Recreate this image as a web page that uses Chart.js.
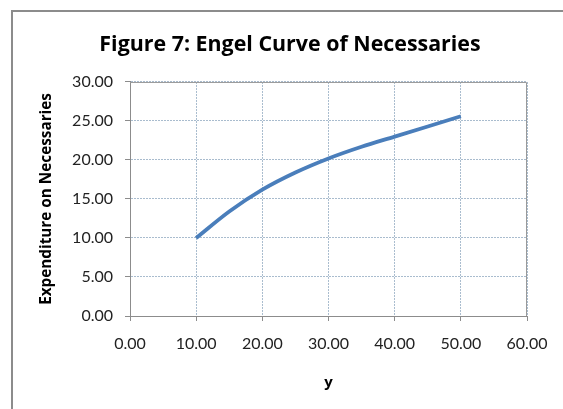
<!DOCTYPE html>
<html>
<head>
<meta charset="utf-8">
<script src="https://cdn.jsdelivr.net/npm/chart.js@4"></script>
<style>
  html, body { margin: 0; padding: 0; background: #fff; }
  #wrap { position: relative; width: 563px; height: 409px; overflow: hidden; }
  #frame { position: absolute; left: 11px; top: 10px; width: 620px; height: 460px;
           border: 2px solid #8c8c8c; box-sizing: border-box; }
  canvas { position: absolute; left: 0; top: 0; }
</style>
</head>
<body>
<div id="wrap">
  <div id="frame"></div>
  <canvas id="engelChart" width="563" height="409"></canvas>
</div>
<script>
// Engel curve data
const incomeY = [10, 15, 20, 25, 30, 35, 40, 45, 50];
const expenditure = [10.0, 13.4, 16.2, 18.4, 20.2, 21.7, 23.0, 24.3, 25.6];
const xTickLabels = ['0.00', '10.00', '20.00', '30.00', '40.00', '50.00', '60.00'];
const yTickLabels = ['0.00', '5.00', '10.00', '15.00', '20.00', '25.00', '30.00'];

const points = incomeY.map((x, i) => ({ x: x, y: expenditure[i] }));

// grey frame on top & right of plot area (Excel style)
const plotEdge = {
  id: 'plotEdge',
  afterDraw(chart) {
    const a = chart.chartArea, c = chart.ctx;
    c.save();
    c.strokeStyle = '#9a9a9a';
    c.lineWidth = 1;
    c.beginPath();
    c.moveTo(a.left, a.top + 0.5);
    c.lineTo(a.right - 0.5, a.top + 0.5);
    c.lineTo(a.right - 0.5, a.bottom);
    c.stroke();
    c.restore();
  }
};

const tickFont = { family: 'Lato', size: 16 };
const gridCol = 'rgba(140,165,190,0.75)';
const padLeft = 53; // shifts the title centre; y axis width compensates

const ctx = document.getElementById('engelChart').getContext('2d');
const engelChart = new Chart(ctx, {
  type: 'line',
  data: {
    datasets: [{
      data: points,
      borderColor: '#4a7ebb',
      borderWidth: 3.8,
      pointRadius: 0,
      fill: false,
      cubicInterpolationMode: 'monotone'
    }]
  },
  options: {
    responsive: false,
    animation: false,
    layout: { padding: { left: padLeft, right: 36, top: 0, bottom: 0 } },
    plugins: {
      legend: { display: false },
      tooltip: { enabled: false },
      title: {
        display: true,
        text: 'Figure 7: Engel Curve of Necessaries',
        color: '#000',
        font: { family: 'Open Sans', size: 21.4, weight: 'bold', lineHeight: 1.2 },
        padding: { top: 32.15, bottom: 24.15 }
      }
    },
    scales: {
      x: {
        type: 'linear',
        min: 0, max: 60,
        ticks: {
          stepSize: 10,
          color: '#222',
          font: tickFont,
          padding: 13,
          maxRotation: 0,
          callback: (v, i) => xTickLabels[i]
        },
        grid: { color: gridCol, lineWidth: 1, tickLength: 5, tickColor: '#8c8c8c' },
        border: { color: '#8c8c8c', width: 1, dash: [2, 1] },
        title: {
          display: true, text: 'y', color: '#000',
          font: { family: 'Open Sans', size: 15, weight: 'bold', lineHeight: 1.2 },
          padding: { top: 0, bottom: 17 }
        },
        afterFit: (s) => { s.height = 93; }
      },
      y: {
        min: 0, max: 30,
        ticks: {
          stepSize: 5,
          color: '#222',
          font: tickFont,
          padding: 12,
          callback: (v, i) => yTickLabels[i]
        },
        grid: { color: gridCol, lineWidth: 1, tickLength: 5, tickColor: '#8c8c8c' },
        border: { color: '#8c8c8c', width: 1, dash: [2, 1] },
        title: {
          display: true, text: 'Expenditure on Necessaries', color: '#000',
          font: { family: 'Open Sans', size: 15.3, weight: 'bold', lineHeight: 1.2 },
          padding: { top: 47 - padLeft - 9.2, bottom: 0 }
        },
        afterFit: (s) => { s.width = 130 - padLeft; }
      }
    }
  },
  plugins: [plotEdge]
});
</script>
</body>
</html>
